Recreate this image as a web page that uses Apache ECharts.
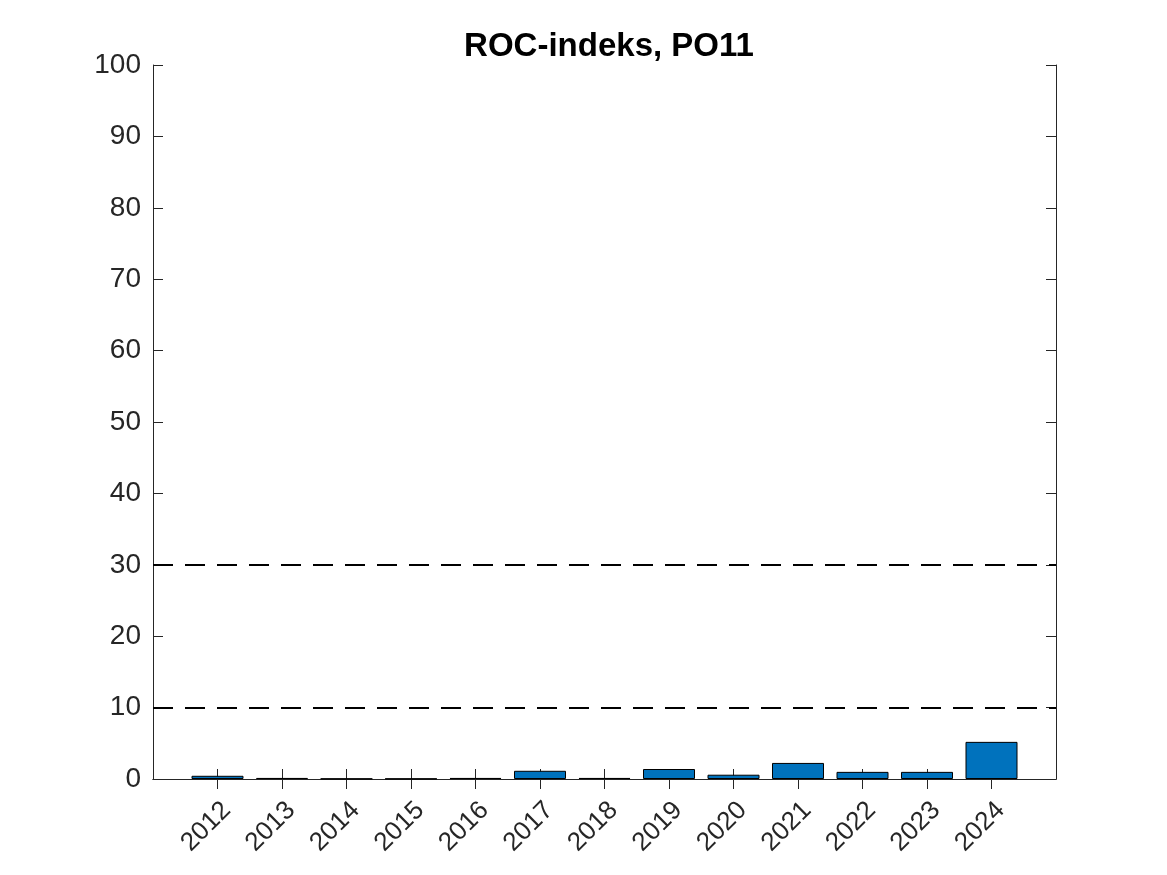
<!DOCTYPE html>
<html><head><meta charset="utf-8">
<script src="https://cdn.jsdelivr.net/npm/echarts@6/dist/echarts.min.js"></script>
<style>html,body{margin:0;padding:0;background:#fff}#c{width:1167px;height:875px}</style>
</head><body><div id="c"></div>
<script>
const years = [2012,2013,2014,2015,2016,2017,2018,2019,2020,2021,2022,2023,2024];
const values = [0.45,0.15,0.05,0.05,0.15,1.15,0.15,1.4,0.6,2.25,1.0,1.0,5.2];
const refLines = [10, 30];
const yTicks = [0,10,20,30,40,50,60,70,80,90,100];
const title = 'ROC-indeks, PO11';

const chart = echarts.init(document.getElementById('c'));
const axisLine = {show:true, lineStyle:{color:'#262626', width:1}};
const xtick = {show:true, inside:true, length:10, customValues:years, lineStyle:{color:'#262626', width:1}};
const ytick = {show:true, inside:true, length:10, customValues:yTicks, lineStyle:{color:'#262626', width:1}};
chart.setOption({
  animation:false,
  title:{text:title, left:604, textAlign:'center', top:25, textStyle:{fontFamily:'Liberation Sans, Arial', fontSize:33, fontWeight:'bold', color:'#000'}},
  grid:{left:153, right:111, top:65, bottom:96},
  xAxis:[{
    type:'value', min:2011, max:2025, interval:1,
    axisLine:axisLine, axisTick:xtick, splitLine:{show:false},
    axisLabel:{rotate:45, fontSize:26, color:'#262626', fontFamily:'Liberation Sans, Arial', margin:18,
      verticalAlign:'top', customValues:years, formatter:v => String(v)}
  },{
    type:'value', min:2011, max:2025, interval:1, position:'top',
    axisLine:axisLine, axisTick:xtick, splitLine:{show:false}, axisLabel:{show:false}
  }],
  yAxis:[{
    type:'value', min:0, max:100, interval:10,
    axisLine:axisLine, axisTick:ytick, splitLine:{show:false},
    axisLabel:{fontSize:28, color:'#262626', fontFamily:'Liberation Sans, Arial', margin:12}
  },{
    type:'value', min:0, max:100, interval:10, position:'right',
    axisLine:axisLine, axisTick:ytick, splitLine:{show:false}, axisLabel:{show:false}
  }],
  series:[{
    type:'bar', xAxisIndex:0, yAxisIndex:0,
    data: years.map((y,i)=>[y, values[i]]),
    barWidth:52,
    itemStyle:{color:'#0072BD', borderColor:'#000', borderWidth:1},
    markLine:{
      symbol:'none', silent:true, label:{show:false},
      lineStyle:{color:'#000', type:[20,12], width:2},
      data: refLines.map(v=>({yAxis:v}))
    }
  }]
});
</script></body></html>
